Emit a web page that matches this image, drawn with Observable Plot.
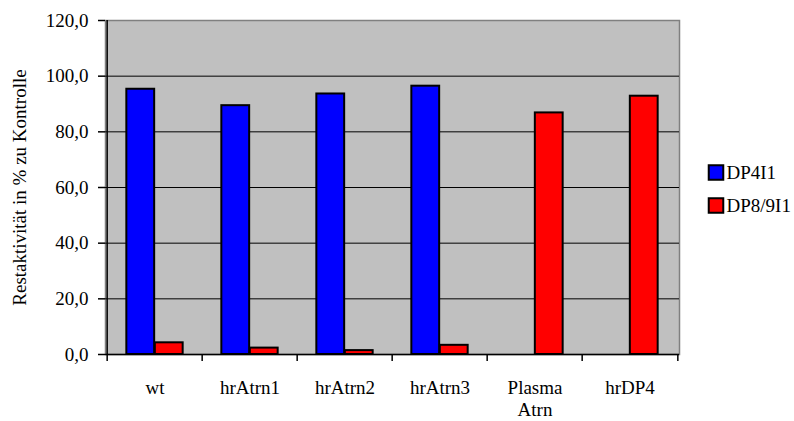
<!DOCTYPE html>
<html>
<head>
<meta charset="utf-8">
<script src="https://cdn.jsdelivr.net/npm/d3@7"></script>
<script src="https://cdn.jsdelivr.net/npm/@observablehq/plot@0.6"></script>
<style>
  html, body { margin: 0; padding: 0; background: #ffffff; }
  #chart svg { display: block; font-family: "Liberation Serif", "Times New Roman", serif !important; }
  #chart svg text { font-family: "Liberation Serif", "Times New Roman", serif !important; }
</style>
</head>
<body>
<div id="chart"></div>
<script>
const categories = ["wt", "hrAtrn1", "hrAtrn2", "hrAtrn3", "Plasma Atrn", "hrDP4"];
const categoryLabels = ["wt", "hrAtrn1", "hrAtrn2", "hrAtrn3", "Plasma\nAtrn", "hrDP4"];
const seriesNames = ["DP4I1", "DP8/9I1"];
const dp4Values = [95.3, 89.4, 93.6, 96.4, 0, 0];
const dp89Values = [4.2, 2.3, 1.4, 3.3, 86.8, 92.8];
const yTicks = [0, 20, 40, 60, 80, 100, 120];
const gridTicks = [20, 40, 60, 80, 100];
const seriesColors = ["#0000ff", "#ff0000"];
const yTitle = "Restaktivität in % zu Kontrolle";

const rows = [];
categories.forEach((c, i) => {
  rows.push({category: c, series: seriesNames[0], value: dp4Values[i]});
  rows.push({category: c, series: seriesNames[1], value: dp89Values[i]});
});

const W = 794, H = 421;
const mL = 105, mR = 115, mT = 20, mB = 67;
const bw = (W - mL - mR) / categories.length;
const barW = 28.5;
const pad = (bw - 2 * barW) / 2;
const font = "'Liberation Serif', 'Times New Roman', serif";
const fs = 19;

const labelOf = Object.fromEntries(categories.map((c, i) => [c, categoryLabels[i]]));

const legendMarks = seriesNames.flatMap((s, i) => [
  Plot.dot([s], {frameAnchor: "right", fill: d => d, symbol: "square", r: 8.2, stroke: "black", strokeWidth: 2, dx: 36.5, dy: -15 + i * 33}),
  Plot.text([s], {frameAnchor: "right", text: d => d, textAnchor: "start", dx: 47, dy: -15 + i * 33, fontSize: fs, fill: "black"})
]);

const chart = Plot.plot({
  width: W,
  height: H,
  marginLeft: mL,
  marginRight: mR,
  marginTop: mT,
  marginBottom: mB,
  style: {fontFamily: font, fontSize: fs + "px", color: "black", background: "white"},
  x: {domain: categories, padding: 0, label: null},
  y: {domain: [0, 120], label: null},
  color: {domain: seriesNames, range: seriesColors},
  marks: [
    Plot.frame({fill: "#c0c0c0", stroke: "#808080", strokeWidth: 1.5}),
    Plot.ruleY(gridTicks, {stroke: "black", strokeWidth: 1}),
    Plot.barY(rows.filter(d => d.series === seriesNames[0]), {x: "category", y: "value", fill: "series", stroke: "black", strokeWidth: 2, insetLeft: pad, insetRight: bw - pad - barW}),
    Plot.barY(rows.filter(d => d.series === seriesNames[1]), {x: "category", y: "value", fill: "series", stroke: "black", strokeWidth: 2, insetLeft: pad + barW, insetRight: pad}),
    Plot.ruleY([0], {stroke: "black", strokeWidth: 1.5}),
    Plot.ruleX([categories[0]], {dx: -bw / 2, stroke: "black", strokeWidth: 1.5}),
    Plot.ruleX(categories, {dx: -bw / 2, y1: 0, y2: 0, insetBottom: -7, stroke: "black", strokeWidth: 1.5}),
    Plot.ruleX([categories[categories.length - 1]], {dx: bw / 2, y1: 0, y2: 0, insetBottom: -7, stroke: "black", strokeWidth: 1.5}),
    Plot.axisY({ticks: yTicks, tickFormat: d => d.toFixed(1).replace(".", ","), tickSize: 7, tickPadding: 10, fontSize: fs, stroke: "black", strokeWidth: 1.5, label: null}),
    Plot.axisX({tickSize: 0, tickPadding: 24, fontSize: fs, lineHeight: 1.15, tickFormat: d => labelOf[d], label: null}),
    Plot.text([yTitle], {frameAnchor: "left", text: d => d, textAnchor: "middle", rotate: -90, dx: 19 - mL, fontSize: fs, fill: "black"}),
    ...legendMarks
  ]
});

document.getElementById("chart").appendChild(chart);
</script>
</body>
</html>
